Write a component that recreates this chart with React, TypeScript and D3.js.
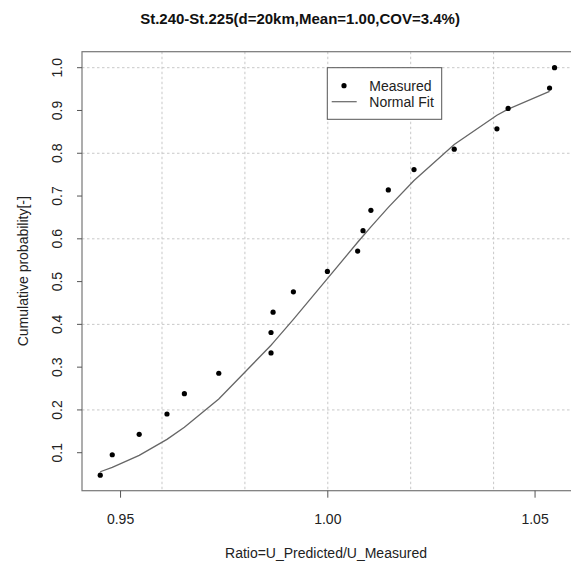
import React from "react";
import * as d3 from "d3";

const ratios = [
  0.9451, 0.948, 0.9545, 0.9612, 0.9654, 0.9737, 0.9863, 0.9863, 0.9868, 0.9917,
  0.9999, 1.0072, 1.0085, 1.0104, 1.0146, 1.0208, 1.0305, 1.0408, 1.0435, 1.0535,
  1.0547,
];
const measuredProb = [
  0.0476, 0.0952, 0.1429, 0.1905, 0.2381, 0.2857, 0.3333, 0.381, 0.4286, 0.4762,
  0.5238, 0.5714, 0.619, 0.6667, 0.7143, 0.7619, 0.8095, 0.8571, 0.9048, 0.9524,
  1.0,
];
const fitRatios = [
  0.9451, 0.948, 0.9545, 0.9612, 0.9654, 0.9737, 0.9863, 0.9863, 0.9868, 0.9917,
  0.9999, 1.0072, 1.0085, 1.0104, 1.0146, 1.0208, 1.0305, 1.0408, 1.0435, 1.0535,
];
const fitProb = [
  0.0555, 0.0657, 0.0938, 0.1312, 0.1594, 0.2257, 0.3511, 0.3511, 0.3566, 0.4116,
  0.507, 0.5919, 0.6066, 0.628, 0.6736, 0.7364, 0.8206, 0.8889, 0.9032, 0.9445,
];
const xTicks = [0.95, 1.0, 1.05];
const xGrid = [0.96, 0.98, 1.0, 1.02, 1.04];
const yTicks = [0.1, 0.2, 0.3, 0.4, 0.5, 0.6, 0.7, 0.8, 0.9, 1.0];
const yGrid = [0.2, 0.4, 0.6, 0.8, 1.0];
const title = "St.240-St.225(d=20km,Mean=1.00,COV=3.4%)";
const xTitle = "Ratio=U_Predicted/U_Measured";
const yTitle = "Cumulative probability[-]";
const legendLabels = ["Measured", "Normal Fit"];

const W = 571;
const H = 563;
const L = 82, R = 573.6, T = 51.7, B = 490.7;
const FONT = "'Liberation Sans', Arial, Helvetica, sans-serif";

export default function App() {
  const x = d3.scaleLinear().domain([0.9407, 1.0593]).range([L, R]);
  const y = d3.scaleLinear().domain([0.0112, 1.0374]).range([B, T]);
  const line = d3
    .line<number>()
    .x((d, i) => x(fitRatios[i]))
    .y((d) => y(d));
  const fx = d3.format(".2f");
  const fy = d3.format(".1f");
  const lx = 327.3, ly = 67.7;
  return (
    <svg
      width={W}
      height={H}
      style={{ position: "absolute", left: 0, top: 0, background: "#fff" }}
      fontFamily={FONT}
    >
      <rect x={0} y={0} width={W} height={H} fill="#fff" />
      <text x={300} y={24} textAnchor="middle" fontSize={15} fontWeight="bold" fill="#111">
        {title}
      </text>
      {xGrid.map((v) => (
        <line key={"gx" + v} x1={x(v)} x2={x(v)} y1={T} y2={B} stroke="#c8c8c8" strokeWidth={1} strokeDasharray="2.5,2.5" />
      ))}
      {yGrid.map((v) => (
        <line key={"gy" + v} x1={L} x2={R} y1={y(v)} y2={y(v)} stroke="#c8c8c8" strokeWidth={1} strokeDasharray="2.5,2.5" />
      ))}
      <rect x={L} y={T} width={R - L} height={B - T} fill="none" stroke="#777" strokeWidth={1.2} />
      {xTicks.map((v) => (
        <g key={"xt" + v}>
          <line x1={x(v)} x2={x(v)} y1={B} y2={B + 7} stroke="#555" strokeWidth={1} />
          <text x={x(v)} y={523.5} textAnchor="middle" fontSize={14} fill="#222">
            {fx(v)}
          </text>
        </g>
      ))}
      {yTicks.map((v) => (
        <g key={"yt" + v}>
          <line x1={L - 5} x2={L} y1={y(v)} y2={y(v)} stroke="#555" strokeWidth={1} />
          <text transform={`translate(62,${y(v)}) rotate(-90)`} textAnchor="middle" fontSize={14} fill="#222">
            {fy(v)}
          </text>
        </g>
      ))}
      <text x={326} y={558} textAnchor="middle" fontSize={14} fill="#222">
        {xTitle}
      </text>
      <text transform={`translate(28,${(T + B) / 2}) rotate(-90)`} textAnchor="middle" fontSize={14} fill="#222">
        {yTitle}
      </text>
      <path d={line(fitProb) || ""} fill="none" stroke="#666" strokeWidth={1.3} />
      {ratios.map((r, i) => (
        <circle key={"p" + i} cx={x(r)} cy={y(measuredProb[i])} r={2.6} fill="#000" />
      ))}
      <rect x={lx} y={ly} width={114.4} height={51.6} fill="#fff" stroke="#555" strokeWidth={1} />
      <circle cx={344} cy={85.7} r={2.6} fill="#000" />
      <text x={369.3} y={90.5} fontSize={14} fill="#222">
        {legendLabels[0]}
      </text>
      <line x1={331.7} x2={356.7} y1={101.7} y2={101.7} stroke="#666" strokeWidth={1.2} />
      <text x={369.3} y={106.5} fontSize={14} fill="#222">
        {legendLabels[1]}
      </text>
    </svg>
  );
}
